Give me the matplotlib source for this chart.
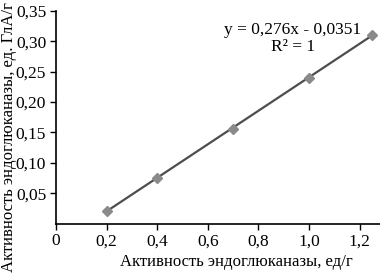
import numpy as np
import matplotlib.pyplot as plt

plt.rcParams['font.family'] = ['Liberation Serif', 'DejaVu Serif']
plt.rcParams['font.size'] = 12

# data
activity_x = [0.2, 0.4, 0.7, 1.0, 1.25]
activity_y = [0.02, 0.075, 0.155, 0.24, 0.31]
slope, intercept = 0.276, -0.0351
x_ticks = [0, 0.2, 0.4, 0.6, 0.8, 1.0, 1.2]
y_ticks = [0.05, 0.10, 0.15, 0.20, 0.25, 0.30, 0.35]

fig = plt.figure(figsize=(3.8, 2.73), dpi=100)
ax = fig.add_axes([0.147, 0.181, 0.853, 0.779])

# trend line
xl = np.array([min(activity_x), max(activity_x)])
ax.plot(xl, slope * xl + intercept, color='#4d4d4d', lw=1.6, zorder=2)
ax.plot(activity_x, activity_y, linestyle='none', marker='D', ms=5.5,
        color='#8a8a8a', zorder=3)

ax.set_xlim(0, 1.28)
ax.set_ylim(0, 0.35)
ax.set_xticks(x_ticks)
ax.set_xticklabels([('%.1f' % v).replace('.', ',') if v else '0' for v in x_ticks])
ax.set_yticks(y_ticks)
ax.set_yticklabels([('%.2f' % v).replace('.', ',') for v in y_ticks])

for s in ['top', 'right']:
    ax.spines[s].set_visible(False)
for s in ['left', 'bottom']:
    ax.spines[s].set_linewidth(1.2)
ax.tick_params(direction='out', length=4, width=1, pad=3, labelsize=12.5)

ax.text(0.935, 0.319, 'y = 0,276x - 0,0351', ha='center', va='center', fontsize=12.5)
ax.text(0.935, 0.291, 'R² = 1', ha='center', va='center', fontsize=12.5)

fig.text(0.623, 0.04, 'Активность эндоглюканазы, ед/г', ha='center', va='center')
fig.text(0.024, 0.004, 'Активность эндоглюканазы, ед. ГлА/г', rotation=90,
         ha='center', va='bottom', fontsize=12)

fig.savefig('out.png', dpi=100)
